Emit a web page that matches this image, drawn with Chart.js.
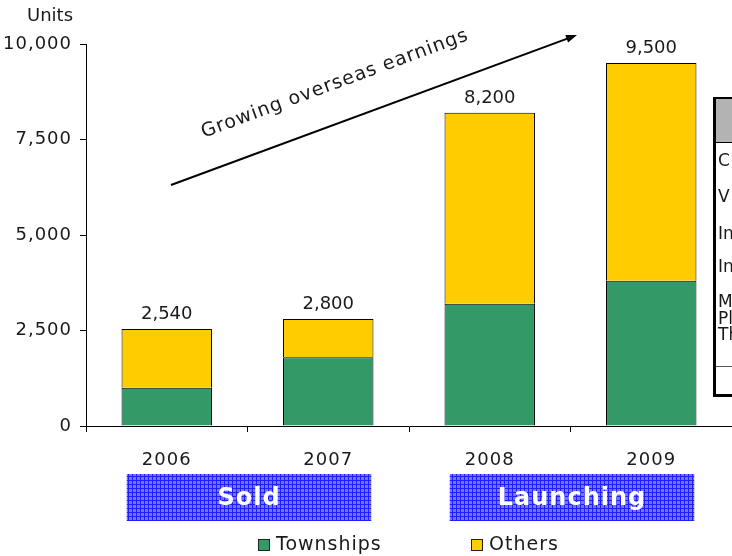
<!DOCTYPE html>
<html>
<head>
<meta charset="utf-8">
<script src="https://cdn.jsdelivr.net/npm/chart.js@4.4.1/dist/chart.umd.min.js"></script>
<style>
  html, body { margin: 0; padding: 0; background: #fff; }
  #unitsChart { display: block; }
</style>
</head>
<body>
<canvas id="unitsChart" width="732" height="556"></canvas>
<script>
// Units sold / launched per year
const years = ['2006', '2007', '2008', '2009'];
const townships = [1000, 1800, 3200, 3800];
const others = [1540, 1000, 5000, 5700];
const yTicks = [0, 2500, 5000, 7500, 10000];

// Phase banners under the axis (first and last year index)
const phaseNames = ['Sold', 'Launching'];
const phaseFrom = [0, 2];
const phaseTo = [1, 3];

// Row heads of the side table (cut by the right edge)
const tableRows = ['C', 'V', 'In', 'In'];
const tableLastRow = ['M', 'Pl', 'Th'];

const FONT = "'DejaVu Sans', Verdana, sans-serif";
const TEXT = '#1a1a1a';

Chart.defaults.font.family = FONT;
Chart.defaults.color = TEXT;

// Blue checked fill for the banners
function bannerPattern(ctx) {
    const tile = document.createElement('canvas');
    tile.width = 4;
    tile.height = 4;
    const t = tile.getContext('2d');
    t.fillStyle = '#7474ff';
    t.fillRect(0, 0, 4, 4);
    t.fillStyle = '#1e1eff';
    t.fillRect(0, 0, 4, 1);
    t.fillRect(0, 0, 1, 4);
    return ctx.createPattern(tile, 'repeat');
}

const spacing = {
    id: 'spacing',
    beforeUpdate(chart) { chart.ctx.letterSpacing = '1px'; },
    beforeDraw(chart) { chart.ctx.letterSpacing = '1px'; }
};

const extras = {
    id: 'extras',
    afterDraw(chart) {
        const ctx = chart.ctx;
        const xs = chart.scales.x;
        const ys = chart.scales.y;
        ctx.save();
        ctx.fillStyle = TEXT;

        // axis unit
        ctx.letterSpacing = '0px';
        ctx.font = '18px ' + FONT;
        ctx.textAlign = 'left';
        ctx.textBaseline = 'alphabetic';
        ctx.fillText('Units', 27, 21);

        // totals above each stack
        ctx.textAlign = 'center';
        years.forEach((yr, i) => {
            const total = townships[i] + others[i];
            ctx.fillText(total.toLocaleString('en-US'), xs.getPixelForValue(i), ys.getPixelForValue(total) - 10);
        });

        // trend arrow
        const ax0 = 171, ay0 = 185, ax1 = 577, ay1 = 35;
        const ang = Math.atan2(ay1 - ay0, ax1 - ax0);
        ctx.strokeStyle = '#000';
        ctx.lineWidth = 2;
        ctx.beginPath();
        ctx.moveTo(ax0, ay0);
        ctx.lineTo(ax1 - 6 * Math.cos(ang), ay1 - 6 * Math.sin(ang));
        ctx.stroke();
        ctx.fillStyle = '#000';
        ctx.beginPath();
        ctx.moveTo(ax1, ay1);
        ctx.lineTo(ax1 - 11 * Math.cos(ang) + 4 * Math.sin(ang), ay1 - 11 * Math.sin(ang) - 4 * Math.cos(ang));
        ctx.lineTo(ax1 - 11 * Math.cos(ang) - 4 * Math.sin(ang), ay1 - 11 * Math.sin(ang) + 4 * Math.cos(ang));
        ctx.closePath();
        ctx.fill();

        ctx.save();
        ctx.translate(335, 84);
        ctx.rotate(ang);
        ctx.letterSpacing = '1px';
        ctx.fillStyle = TEXT;
        ctx.font = '19px ' + FONT;
        ctx.textAlign = 'center';
        ctx.textBaseline = 'middle';
        ctx.fillText('Growing overseas earnings', 0, 0);
        ctx.restore();

        // phase banners
        const pat = bannerPattern(ctx);
        ctx.letterSpacing = '1px';
        phaseNames.forEach((name, k) => {
            const left = xs.getPixelForValue(phaseFrom[k]) - 40;
            const right = xs.getPixelForValue(phaseTo[k]) + 43;
            const top = 474, h = 47;
            ctx.fillStyle = pat;
            ctx.fillRect(left, top, right - left, h);
            ctx.fillStyle = '#fff';
            ctx.font = 'bold 24px ' + FONT;
            ctx.textAlign = 'center';
            ctx.textBaseline = 'middle';
            ctx.fillText(name, (left + right) / 2, top + h / 2 + 1);
        });

        // legend
        const items = [
            { text: 'Townships', color: '#339966', x: 258 },
            { text: 'Others', color: '#ffcc00', x: 471 }
        ];
        ctx.font = '19px ' + FONT;
        ctx.textAlign = 'left';
        ctx.textBaseline = 'middle';
        items.forEach(it => {
            ctx.fillStyle = it.color;
            ctx.fillRect(it.x, 539, 11, 11);
            ctx.strokeStyle = '#222';
            ctx.lineWidth = 1;
            ctx.strokeRect(it.x + 0.5, 539.5, 11, 11);
            ctx.fillStyle = TEXT;
            ctx.fillText(it.text, it.x + 18, 545);
        });

        // side table, mostly outside the canvas
        const tl = 713, tt = 97, tb = 397;
        ctx.fillStyle = '#fff';
        ctx.fillRect(tl, tt, 40, tb - tt);
        ctx.fillStyle = '#b3b3b3';
        ctx.fillRect(tl, tt, 40, 45);
        ctx.strokeStyle = '#000';
        ctx.lineWidth = 1;
        ctx.beginPath();
        ctx.moveTo(tl, 142.5);
        ctx.lineTo(732, 142.5);
        ctx.stroke();
        ctx.strokeStyle = '#555';
        ctx.beginPath();
        ctx.moveTo(tl, 366.5);
        ctx.lineTo(732, 366.5);
        ctx.stroke();
        ctx.fillStyle = '#000';
        ctx.fillRect(tl, tt, 3, tb - tt);
        ctx.fillRect(tl, tt, 40, 2);
        ctx.fillRect(tl, tb - 3, 40, 3);

        ctx.fillStyle = TEXT;
        ctx.letterSpacing = '0px';
        ctx.font = '17px ' + FONT;
        ctx.textAlign = 'left';
        ctx.textBaseline = 'middle';
        const rowY = [162, 198, 235, 268];
        tableRows.forEach((r, i) => ctx.fillText(r, 718, rowY[i]));
        const lastY = [303, 320, 336];
        tableLastRow.forEach((r, i) => ctx.fillText(r, 718, lastY[i]));

        ctx.restore();
    }
};

new Chart(document.getElementById('unitsChart').getContext('2d'), {
    type: 'bar',
    data: {
        labels: years,
        datasets: [{
            label: 'Townships',
            data: townships,
            backgroundColor: '#339966',
            borderColor: '#000',
            borderWidth: 1
        }, {
            label: 'Others',
            data: others,
            backgroundColor: '#ffcc00',
            borderColor: '#000',
            borderWidth: 1
        }]
    },
    options: {
        responsive: false,
        animation: false,
        devicePixelRatio: 1,
        layout: { padding: { top: 44, right: 0, bottom: 0, left: 0 } },
        datasets: { bar: { barPercentage: 0.56, categoryPercentage: 1 } },
        plugins: {
            legend: { display: false },
            tooltip: { enabled: false }
        },
        scales: {
            x: {
                stacked: true,
                offset: true,
                grid: { offset: true, drawOnChartArea: false, tickLength: 6, color: '#000' },
                border: { color: '#000', width: 1 },
                ticks: { font: { size: 18 }, color: TEXT, padding: 18, maxRotation: 0 },
                afterFit(scale) { scale.height = 130; }
            },
            y: {
                stacked: true,
                min: 0,
                max: 10000,
                afterBuildTicks(scale) { scale.ticks = yTicks.map(v => ({ value: v })); },
                grid: { drawOnChartArea: false, tickLength: 6, color: '#000' },
                border: { color: '#000', width: 1 },
                ticks: {
                    font: { size: 18 },
                    color: TEXT,
                    padding: 8,
                    callback: function (value) {
                        return value.toLocaleString('en-US');
                    }
                },
                afterFit(scale) { scale.width = 86; }
            }
        }
    },
    plugins: [spacing, extras]
});
</script>
</body>
</html>
